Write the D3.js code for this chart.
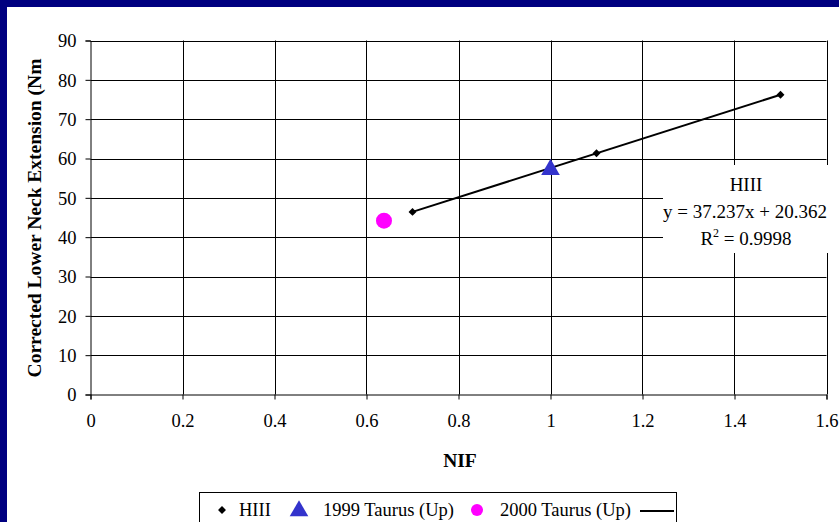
<!DOCTYPE html>
<html>
<head>
<meta charset="utf-8">
<script src="https://cdn.jsdelivr.net/npm/d3@7"></script>
<style>
  html, body { margin: 0; padding: 0; background: #000080; }
  svg { display: block; }
  text { font-family: "Liberation Serif", "Times New Roman", serif; fill: #000; }
</style>
</head>
<body>
<svg id="chart" width="839" height="522"></svg>
<script>
// HIII calibration points (NIF vs. corrected lower neck extension)
const hiiiNIF = [0.7, 1.1, 1.5];
const hiiiMoment = [46.43, 61.32, 76.22];
// Vehicle tests
const taurus1999 = [{ nif: 1.0, moment: 57.2 }];
const taurus2000 = [{ nif: 0.638, moment: 44.2 }];
// Linear fit of HIII data
const fitSlope = 37.237;
const fitIntercept = 20.362;
const fitR2 = "0.9998";
const fitRange = [0.7, 1.5];

const xTicks = [0, 0.2, 0.4, 0.6, 0.8, 1, 1.2, 1.4, 1.6];
const yTicks = [0, 10, 20, 30, 40, 50, 60, 70, 80, 90];
const legendLabels = ["HIII", "1999 Taurus (Up)", "2000 Taurus (Up)"];

const svg = d3.select("#chart");

// white chart surface inside the navy frame
svg.append("rect").attr("x", 7).attr("y", 7).attr("width", 839 - 7).attr("height", 522 - 7).attr("fill", "#fff");

const x = d3.scaleLinear().domain([0, 1.6]).range([90.5, 826.5]);
const y = d3.scaleLinear().domain([0, 90]).range([394.5, 40.5]);

const g = svg.append("g");

// gridlines
g.selectAll("line.vg").data(xTicks.slice(1)).join("line")
  .attr("x1", d => Math.round(x(d)) + 0.5).attr("x2", d => Math.round(x(d)) + 0.5)
  .attr("y1", y(90)).attr("y2", y(0))
  .attr("stroke", "#000").attr("stroke-width", 1);
g.selectAll("line.hg").data(yTicks.slice(1)).join("line")
  .attr("x1", x(0)).attr("x2", x(1.6))
  .attr("y1", d => Math.round(y(d)) + 0.5).attr("y2", d => Math.round(y(d)) + 0.5)
  .attr("stroke", "#000").attr("stroke-width", 1);

// axes
const xAxis = d3.axisBottom(x).tickValues(xTicks).tickSize(5).tickPadding(14)
  .tickFormat(d => d3.format("~g")(d));
const yAxis = d3.axisLeft(y).tickValues(yTicks).tickSize(5).tickPadding(9);

const gx = g.append("g").attr("transform", `translate(0,${y(0)})`).call(xAxis);
const gy = g.append("g").attr("transform", `translate(${x(0)},0)`).call(yAxis);
[gx, gy].forEach(a => {
  a.attr("font-size", 18.5).attr("font-family", "Liberation Serif");
  a.select(".domain").attr("stroke", "#000");
  a.selectAll(".tick line").attr("stroke", "#000");
  a.selectAll(".tick text").style("font-size", "18.5px").style("font-family", "Liberation Serif");
});
gy.selectAll(".tick text").attr("dy", "0.35em");

// trend line
g.append("line")
  .attr("x1", x(fitRange[0])).attr("y1", y(fitSlope * fitRange[0] + fitIntercept))
  .attr("x2", x(fitRange[1])).attr("y2", y(fitSlope * fitRange[1] + fitIntercept))
  .attr("stroke", "#000").attr("stroke-width", 2);

// markers
const diamond = d3.symbol().type(d3.symbolDiamond2).size(40);
const hiii = hiiiNIF.map((n, i) => ({ nif: n, moment: hiiiMoment[i] }));
g.selectAll("path.hiii").data(hiii).join("path")
  .attr("d", diamond).attr("fill", "#000")
  .attr("transform", d => `translate(${x(d.nif)},${y(d.moment)})`);

const tri = d3.symbol().type(d3.symbolTriangle).size(150);
g.selectAll("path.t99").data(taurus1999).join("path")
  .attr("d", tri).attr("fill", "#3333cc")
  .attr("transform", d => `translate(${x(d.nif)},${y(d.moment)})`);

g.selectAll("circle.t00").data(taurus2000).join("circle")
  .attr("cx", d => x(d.nif)).attr("cy", d => y(d.moment)).attr("r", 8)
  .attr("fill", "#ff00ff");

// equation label
g.append("rect").attr("x", 663).attr("y", 165).attr("width", 176).attr("height", 88).attr("fill", "#fff");
const eqStyle = t => t.attr("text-anchor", "middle").style("font-size", "19px");
g.append("text").attr("x", 746).attr("y", 191).call(eqStyle).text("HIII");
g.append("text").attr("x", 745).attr("y", 218).call(eqStyle).text(`y = ${fitSlope}x + ${fitIntercept}`);
const r2 = g.append("text").attr("x", 746).attr("y", 245).call(eqStyle);
r2.append("tspan").text("R");
r2.append("tspan").style("font-size", "12px").attr("dy", -8).text("2");
r2.append("tspan").attr("dy", 8).text(` = ${fitR2}`);

// axis titles
g.append("text").attr("x", 460).attr("y", 467).attr("text-anchor", "middle")
  .style("font-size", "19.5px").attr("font-weight", "bold").text("NIF");
g.append("text").attr("transform", "translate(41,218) rotate(-90)")
  .attr("text-anchor", "middle").style("font-size", "19.5px").attr("font-weight", "bold")
  .text("Corrected Lower Neck Extension (Nm");

// legend
const lg = g.append("g");
lg.append("rect").attr("x", 199.5).attr("y", 492.5).attr("width", 477).attr("height", 40)
  .attr("fill", "#fff").attr("stroke", "#000").attr("stroke-width", 1);
lg.append("path").attr("d", diamond).attr("fill", "#000").attr("transform", "translate(222,510)");
lg.append("text").attr("x", 239).attr("y", 516).style("font-size", "18.5px").text(legendLabels[0]);
lg.append("path").attr("d", tri).attr("fill", "#3333cc").attr("transform", "translate(299,511)");
lg.append("text").attr("x", 323).attr("y", 516).style("font-size", "18.5px").text(legendLabels[1]);
lg.append("circle").attr("cx", 477).attr("cy", 510).attr("r", 6).attr("fill", "#ff00ff");
lg.append("text").attr("x", 500).attr("y", 516).style("font-size", "18.5px").text(legendLabels[2]);
lg.append("line").attr("x1", 640).attr("x2", 674).attr("y1", 511).attr("y2", 511)
  .attr("stroke", "#000").attr("stroke-width", 2);
</script>
</body>
</html>
